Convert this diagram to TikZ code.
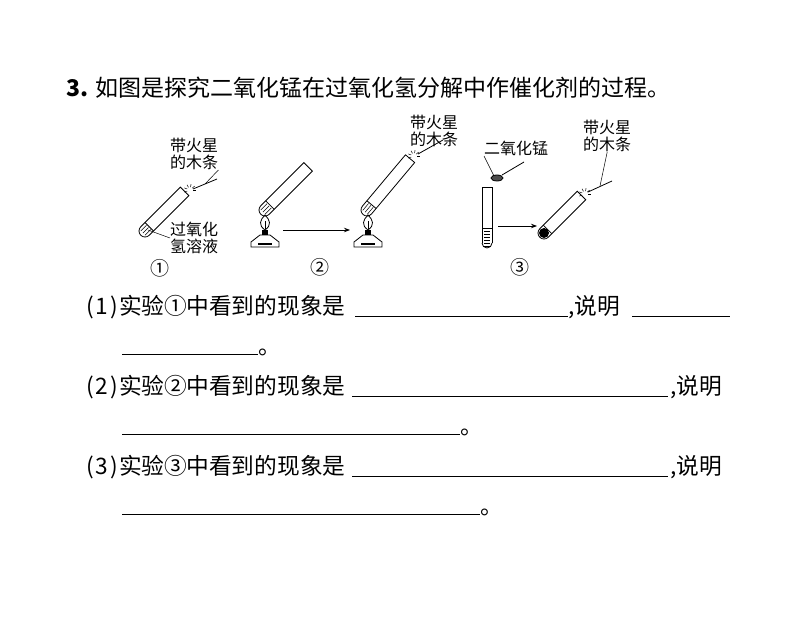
\documentclass[tikz,border=0pt]{standalone}
\usepackage{fontspec}
\setmainfont{Noto Sans CJK SC}
\usetikzlibrary{positioning, arrows.meta}

\tikzset{
  lab/.style={font=\fontsize{16}{17}\selectfont, align=left, inner sep=0pt},
  txt/.style={font=\fontsize{22.7}{23}\selectfont, anchor=west, inner sep=0pt},
  blank/.style={line width=0.6pt},
  app/.style={line width=0.8pt}
}
\newcommand\qlead[2]{(\kern2pt#1\kern2pt)\kern1pt 实验\makebox[22pt]{#2}中看到的现象是}
% test tube: bottom centre x, y, rotation, length, liquid height
\newcommand\tubeat[5]{%
  \begin{scope}[shift={(#1,#2)}, rotate=#3, app]
    \draw (-6pt,#4pt) -- (-6pt,0pt) arc(180:360:6pt) -- (6pt,#4pt) -- cycle;
    \draw (-6pt,#5pt) -- (6pt,#5pt);
    \foreach \u in {-3,0,3} \draw[line width=0.5pt] (\u pt,-3pt) -- (\u pt,#5pt-1pt);
  \end{scope}}
% alcohol lamp: base centre x, y
\newcommand\lampat[2]{%
  \begin{scope}[shift={(#1,#2)}, app]
    \draw (-14pt,0pt) -- (14pt,0pt) -- (14pt,5pt) -- (5pt,12pt) -- (-5pt,12pt) -- (-14pt,5pt) -- cycle;
    \draw[line width=1.5pt] (-7pt,3pt) -- (7pt,3pt);
    \fill (-3pt,12pt) rectangle (3pt,17pt);
    \draw (0pt,17pt) .. controls (-7pt,22pt) and (-5pt,27pt) .. (0pt,32pt)
          .. controls (5pt,27pt) and (7pt,22pt) .. (0pt,17pt);
    \draw (0pt,18pt) -- (0pt,26pt);
  \end{scope}}
% sparks at a tube mouth
\newcommand\sparkat[2]{%
  \foreach \a in {0,40,80,120,160,200} \draw[line width=0.5pt] ([shift={(\a:3pt)}]#1,#2) -- ([shift={(\a:6pt)}]#1,#2);}

\begin{document}
\begin{tikzpicture}[x=1pt, y=-1pt]
\useasboundingbox (0,0) rectangle (794,644);

% question
\node[txt, font=\fontsize{23}{24}\selectfont] (q) at (66,88) {\textbf{3.} 如图是探究二氧化锰在过氧化氢分解中作催化剂的过程。};

% experiment 1
\tubeat{145}{231}{-45}{56}{6}
\sparkat{190}{190}
\coordinate (s1a) at (193,189); \coordinate (s1b) at (217,179);
\draw[app] (s1a) -- (s1b);
\node[lab, anchor=south west] (l1) at (170,170) {带火星\\的木条};
\draw[line width=0.5pt] (205,184) -- (l1.south east);
\node[lab, anchor=west] (l2) at (170,238) {过氧化\\氢溶液};
\coordinate (p1) at (148,230);
\draw[line width=0.5pt] (p1) -- (l2.west);
\node[lab, font=\fontsize{19}{20}\selectfont] (n1) at (160,268) {①};

% experiment 2
\tubeat{265}{210}{-45}{61}{7}
\lampat{265}{247}
\coordinate (a2a) at (283,230); \coordinate (a2b) at (350,230);
\draw[app, -{Stealth[length=6pt]}] (a2a) -- (a2b);
\tubeat{367}{210}{-40}{67}{7}
\lampat{368}{247}
\sparkat{414}{156}
\coordinate (s2a) at (418,154); \coordinate (s2b) at (443,140);
\draw[app] (s2a) -- (s2b);
\node[lab, anchor=south west] (l3) at (410,147) {带火星\\的木条};
\node[lab, font=\fontsize{19}{20}\selectfont] (n2) at (320,267) {②};

% experiment 3
\node[lab, anchor=south west] (l4) at (484,156) {二氧化锰};
\coordinate (sp) at (497,178);
\draw[app, fill=black!70] (sp) ellipse (6pt and 3pt);
\draw[app] (502,175) -- (524,162);
\draw[line width=0.5pt] (494,176) -- (l4.south west);
\begin{scope}[app]
  \draw (482,243) -- (482,187) -- (492,187) -- (492,243);
  \draw (482,243) arc(180:0:5);
  \draw (482,228) -- (492,228);
  \foreach \v in {231,234,...,246} \draw[line width=0.5pt] (484,\v) -- (490,\v);
\end{scope}
\coordinate (a3a) at (498,226); \coordinate (a3b) at (537,226);
\draw[app, -{Stealth[length=6pt]}] (a3a) -- (a3b);
\tubeat{544}{233}{-45}{53}{5}
\fill (544,233) circle (5pt);
\sparkat{585}{194}
\coordinate (s3a) at (588,192); \coordinate (s3b) at (612,181);
\draw[app] (s3a) -- (s3b);
\node[lab, anchor=south west] (l5) at (583,152) {带火星\\的木条};
\draw[line width=0.5pt] (600,186) -- (l5.south);
\node[lab, font=\fontsize{19}{20}\selectfont] (n3) at (520,267) {③};

% questions with blanks
\node[txt] (t1) at (86,307) {\qlead{1}{①}};
\draw[blank] (355,316) -- (568,316);
\node[txt] (t1b) at (568,307) {,说明};
\draw[blank] (632,316) -- (730,316);
\draw[blank] (122,354) -- (258,354);
\node[txt] (t1c) at (258,352) {。};

\node[txt] (t2) at (86,387) {\qlead{2}{②}};
\draw[blank] (352,396) -- (668,396);
\node[txt] (t2b) at (670,387) {,说明};
\draw[blank] (122,434) -- (460,434);
\node[txt] (t2c) at (460,432) {。};

\node[txt] (t3) at (86,467) {\qlead{3}{③}};
\draw[blank] (352,476) -- (668,476);
\node[txt] (t3b) at (670,467) {,说明};
\draw[blank] (122,514) -- (480,514);
\node[txt] (t3c) at (480,512) {。};
\end{tikzpicture}
\end{document}
